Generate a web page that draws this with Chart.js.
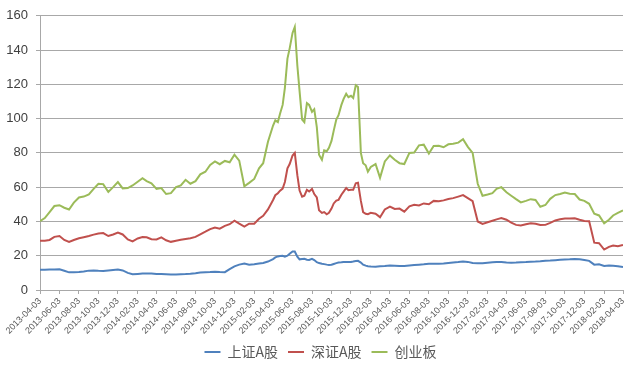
<!DOCTYPE html>
<html><head><meta charset="utf-8">
<script src="https://cdn.jsdelivr.net/npm/chart.js@4.4.1/dist/chart.umd.min.js"></script>
<style>html,body{margin:0;padding:0;background:#fff;}canvas{display:block;}</style>
</head><body>
<canvas id="c" width="640" height="369"></canvas>
<script>
const dates = [
"2013-04-03","2013-04-18","2013-05-03","2013-05-18","2013-06-03","2013-06-18","2013-07-03","2013-07-18","2013-08-03","2013-08-18","2013-09-03","2013-09-18","2013-10-03","2013-10-18","2013-11-03","2013-11-18","2013-12-03","2013-12-18",
"2014-01-03","2014-01-18","2014-02-03","2014-02-18","2014-03-03","2014-03-18","2014-04-03","2014-04-18","2014-05-03","2014-05-18","2014-06-03","2014-06-18","2014-07-03","2014-07-18","2014-08-03","2014-08-18","2014-09-03","2014-09-18","2014-10-03","2014-10-18","2014-11-03","2014-11-18","2014-12-03","2014-12-18",
"2015-01-03","2015-01-18","2015-02-03","2015-02-18","2015-03-03","2015-03-18",
"2015-04-03","2015-04-10","2015-04-18","2015-04-25","2015-05-03","2015-05-10","2015-05-18","2015-05-25","2015-06-03","2015-06-10","2015-06-18","2015-06-25",
"2015-07-03","2015-07-10","2015-07-18","2015-07-25","2015-08-03","2015-08-10","2015-08-18","2015-08-25","2015-09-03","2015-09-10","2015-09-18","2015-09-25",
"2015-10-03","2015-10-10","2015-10-18","2015-10-25","2015-11-03","2015-11-10","2015-11-18","2015-11-25","2015-12-03","2015-12-10","2015-12-18","2015-12-25",
"2016-01-03","2016-01-10","2016-01-18","2016-01-25","2016-02-03",
"2016-02-18","2016-03-03","2016-03-18","2016-04-03","2016-04-18","2016-05-03","2016-05-18","2016-06-03","2016-06-18","2016-07-03","2016-07-18","2016-08-03","2016-08-18","2016-09-03","2016-09-18","2016-10-03","2016-10-18","2016-11-03","2016-11-18","2016-12-03","2016-12-18",
"2017-01-03","2017-01-18","2017-02-03","2017-02-18","2017-03-03","2017-03-18","2017-04-03","2017-04-18","2017-05-03","2017-05-18","2017-06-03","2017-06-18","2017-07-03","2017-07-18","2017-08-03","2017-08-18","2017-09-03","2017-09-18","2017-10-03","2017-10-18","2017-11-03","2017-11-18","2017-12-03","2017-12-18",
"2018-01-03","2018-01-18","2018-02-03","2018-02-18","2018-03-03","2018-03-18","2018-04-03"
];

const shA = [
11.8,11.8,11.9,12,12.1,11.2,10.3,10.3,10.5,10.8,11.3,11.4,11.2,11.1,11.4,11.7,11.9,11.4,10,9.2,
9.4,9.6,9.6,9.6,9.4,9.3,9.2,9.1,9,9.2,9.3,9.5,9.8,10.2,10.4,10.5,10.7,10.5,10.4,12.2,
13.8,14.8,15.5,14.8,15,15.4,15.8,16.6,
18,19,19.6,19.8,20,19.5,20,21.2,22.5,22.5,19.5,17.9,18.1,18.2,17.7,17.5,18.2,17.5,16.2,15.7,
15.3,15.1,14.8,14.6,14.7,15.2,15.7,16,16.2,16.4,16.4,16.3,16.4,16.6,16.9,17,16,14.8,14.2,13.9,13.7,
13.5,13.8,14,14.3,14.2,14,14,14.3,14.6,14.8,15,15.3,15.3,15.3,15.4,15.8,16.1,16.3,16.6,16.4,
15.7,15.6,15.6,15.9,16.2,16.3,16.4,16,15.9,16,16.2,16.3,16.5,16.6,16.8,17.1,17.2,17.4,17.6,17.8,
17.9,18.1,17.9,17.5,17,14.8,15,14,14.3,14.1,13.9,13.4
];

const szA = [
28.7,28.8,29.2,31,31.5,29.2,28,29.2,30.2,30.8,31.5,32.3,33,33.2,31.5,32.4,33.5,32.4,29.5,28.4,
30.1,30.9,30.8,29.6,29.5,30.7,29,28.1,28.7,29.3,29.8,30.2,31,32.5,34,35.5,36.5,35.8,37.4,38.4,
40.5,38.7,37,38.7,38.7,41.6,43.3,47,
52.5,55.3,56.5,58,59.2,63,71,73.5,78.5,80,67,58,54.5,55,58.5,57.5,59,56,54,46.5,
45,45.5,44.2,45,47.5,50.5,52.2,52.6,55.6,57.4,59.5,58.2,58.5,58.5,62.3,62.6,52,45.5,44.5,44.2,45,
44.5,42.5,47,48.7,47.3,47.5,45.7,48.8,49.7,49.3,50.5,50,52,51.8,52.3,53.1,53.6,54.5,55.4,53.6,
51.8,40,38.6,39.5,40.4,41.2,42,41,39.3,38,37.7,38.4,39,38.6,37.9,38,39.2,40.6,41.3,41.7,
41.7,41.8,41,40.3,40.1,27.6,27.3,23.6,25.2,26,25.5,26.3
];

const cyb = [
40.2,42,45.5,49,49.5,48,47,51,54,54.5,55.8,59,62,61.8,57.2,60,63,59.3,59.5,61,
63.2,65.2,63.5,62.2,59,59.5,56,56.5,60,61,64.3,62,63.5,67.5,69,73,75,73.4,75.3,74.5,
79,75.5,60.5,62.5,64.8,71,74,86.5,
96,99,98,103,108,118,135,141,150,153.5,131,116,99.5,98,109,108,104,105.5,95,79,
76,81.5,81,83,87,93,99.5,102,108,111.5,114.5,112.5,113.3,112,119.5,118.5,80,74,72.8,69,71.8,
73.5,65.5,75,78.5,76,74,73.5,80,80.2,84.4,84.8,79.6,84,84.2,83.3,85,85.4,86,88,83.5,
80,62,55,55.7,56.5,59,60,57,55,53,51.1,52,53,52.5,48.6,49.6,53.2,55.4,56,56.9,
56.2,56,52.8,52,50.3,44.5,43.5,38.9,41,43.5,45,46.4
];

const tickLabels = [
"2013-04-03","2013-06-03","2013-08-03","2013-10-03","2013-12-03",
"2014-02-03","2014-04-03","2014-06-03","2014-08-03","2014-10-03","2014-12-03",
"2015-02-03","2015-04-03","2015-06-03","2015-08-03","2015-10-03","2015-12-03",
"2016-02-03","2016-04-03","2016-06-03","2016-08-03","2016-10-03","2016-12-03",
"2017-02-03","2017-04-03","2017-06-03","2017-08-03","2017-10-03","2017-12-03",
"2018-02-03","2018-04-03"
];

const seriesNames = ["上证A股","深证A股","创业板"];
const seriesColors = ["#4f81bd","#c0504d","#9bbb59"];

const t0 = Date.parse(dates[0]);
const dayOf = s => Math.round((Date.parse(s) - t0) / 86400000);
const labelByDay = {};
tickLabels.forEach(s => { labelByDay[dayOf(s)] = s; });

const toPts = arr => dates.map((d, i) => ({x: dayOf(d), y: arr[i]}));
const allSeries = [shA, szA, cyb];

const datasets = allSeries.map((arr, k) => ({
  label: seriesNames[k],
  data: toPts(arr),
  borderColor: seriesColors[k],
  backgroundColor: seriesColors[k],
  borderWidth: 2,
  pointRadius: 0,
  tension: 0,
  fill: false
}));

const gridCol = '#a8a8a8';
const txtCol = '#595959';

const chart = new Chart(document.getElementById('c'), {
  type: 'line',
  data: { datasets },
  options: {
    responsive: false,
    devicePixelRatio: 1,
    animation: false,
    layout: { padding: { left: 0, right: 17, top: 14, bottom: 0 } },
    plugins: {
      tooltip: { enabled: false },
      legend: {
        position: 'bottom',
        labels: {
          usePointStyle: true,
          pointStyle: 'line',
          pointStyleWidth: 16,
          boxHeight: 14,
          padding: 10,
          color: txtCol,
          font: { family: '"Noto Sans CJK SC", sans-serif', size: 14 }
        }
      }
    },
    scales: {
      x: {
        type: 'linear',
        min: 0,
        max: dayOf(tickLabels[tickLabels.length - 1]),
        afterBuildTicks: scale => { scale.ticks = tickLabels.map(s => ({ value: dayOf(s) })); },
        afterFit: scale => { scale.height = 45; },
        ticks: {
          autoSkip: false,
          maxRotation: 45,
          minRotation: 45,
          padding: 2,
          color: txtCol,
          font: { family: '"Liberation Sans", Arial, sans-serif', size: 9 },
          callback: v => labelByDay[v] || ''
        },
        grid: { display: true, drawOnChartArea: false, drawTicks: true, tickLength: 4, color: gridCol },
        border: { display: true, color: gridCol, width: 1 }
      },
      y: {
        min: 0,
        max: 160,
        afterFit: scale => { scale.width = 40; },
        ticks: {
          stepSize: 20,
          padding: 8,
          color: '#404040',
          font: { family: '"Liberation Sans", Arial, sans-serif', size: 13 }
        },
        grid: { color: gridCol, tickLength: 4, drawTicks: true },
        border: { display: true, color: gridCol, width: 1 }
      }
    }
  }
});

// centre the legend on the full canvas width (as in the reference)
const origLegendDraw = chart.legend.draw;
chart.legend.draw = function () {
  const ctx = this.ctx;
  ctx.save();
  ctx.translate(9, 0);
  origLegendDraw.apply(this, arguments);
  ctx.restore();
};
chart.draw();
</script>
</body></html>
